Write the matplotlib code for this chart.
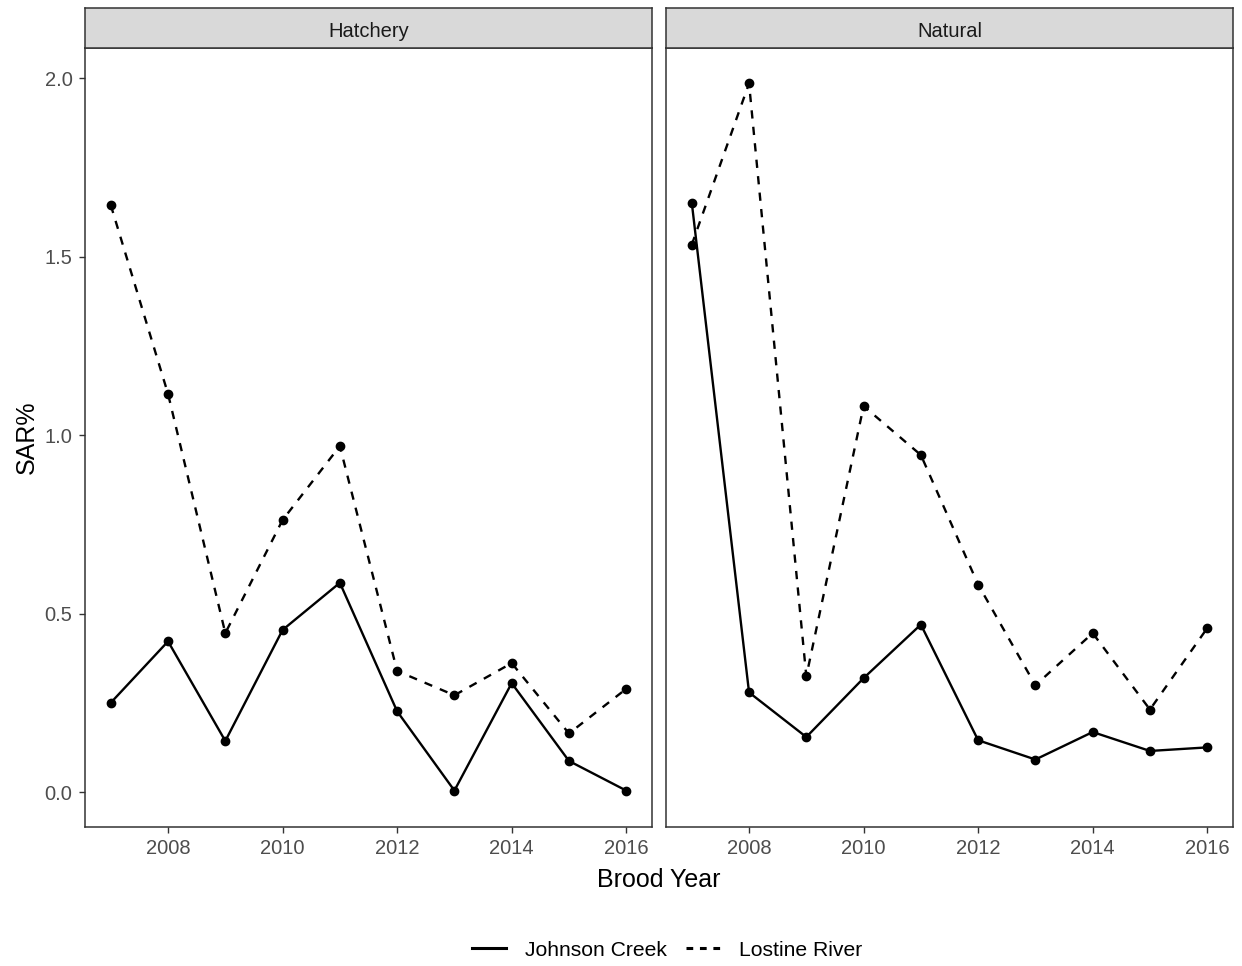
import matplotlib
matplotlib.use("Agg")
import matplotlib.pyplot as plt
from matplotlib.lines import Line2D

plt.rcParams['font.family'] = ['Liberation Sans', 'DejaVu Sans']

years = [2007, 2008, 2009, 2010, 2011, 2012, 2013, 2014, 2015, 2016]

# SAR% by brood year
hatchery_johnson = [0.251, 0.423, 0.144, 0.455, 0.587, 0.227, 0.005, 0.306, 0.088, 0.005]
hatchery_lostine = [1.645, 1.116, 0.446, 0.763, 0.970, 0.340, 0.272, 0.362, 0.165, 0.290]
natural_johnson = [1.652, 0.280, 0.155, 0.320, 0.470, 0.146, 0.092, 0.169, 0.116, 0.126]
natural_lostine = [1.534, 1.986, 0.325, 1.082, 0.945, 0.582, 0.300, 0.446, 0.232, 0.460]

panels = ['Hatchery', 'Natural']
series = {
    'Hatchery': (hatchery_johnson, hatchery_lostine),
    'Natural': (natural_johnson, natural_lostine),
}

grey20 = '#333333'
grey30 = '#4D4D4D'
dash = (0, (3.5, 3.5))

fig = plt.figure(figsize=(12.42, 9.66), dpi=100)
W, H = 1242, 966

lefts = [85, 666]
pw = 567
top, bottom = 48, 827

for i, name in enumerate(panels):
    ax = fig.add_axes([lefts[i] / W, 1 - bottom / H, pw / W, (bottom - top) / H])
    jc, lr = series[name]
    ax.plot(years, jc, color='black', lw=1.7, solid_capstyle='butt')
    ax.plot(years, lr, color='black', lw=1.7, linestyle=dash)
    ax.scatter(years, jc, s=36, color='black', zorder=3)
    ax.scatter(years, lr, s=36, color='black', zorder=3)

    ax.set_xlim(2006.55, 2016.45)
    ax.set_ylim(-0.097, 2.085)
    ax.set_xticks([2008, 2010, 2012, 2014, 2016])
    ax.set_yticks([0.0, 0.5, 1.0, 1.5, 2.0])
    ax.set_yticklabels(['0.0', '0.5', '1.0', '1.5', '2.0'])
    ax.tick_params(colors=grey20, labelcolor=grey30, labelsize=14.5,
                   length=4, width=1, pad=5)
    for sp in ax.spines.values():
        sp.set_color(grey20)
        sp.set_linewidth(1.1)
    if i == 1:
        ax.tick_params(axis='y', left=False, labelleft=False)

    # facet strip
    sax = fig.add_axes([lefts[i] / W, 1 - top / H, pw / W, 40 / H])
    sax.set_xticks([])
    sax.set_yticks([])
    sax.set_facecolor('#D9D9D9')
    for sp in sax.spines.values():
        sp.set_color(grey20)
        sp.set_linewidth(1.1)
    sax.text(0.5, 0.42, name, ha='center', va='center', fontsize=14.5,
             color='#1A1A1A', transform=sax.transAxes)

fig.text(659 / W, 1 - 880 / H, 'Brood Year', ha='center', va='center',
         fontsize=18, color='black')
fig.text(27 / W, 1 - 437 / H, 'SAR%', ha='center', va='center',
         fontsize=18, color='black', rotation=90)

handles = [
    Line2D([], [], color='black', lw=2.2),
    Line2D([], [], color='black', lw=2.2, linestyle=(0, (2.2, 2.2))),
]
fig.legend(handles, ['Johnson Creek', 'Lostine River'], loc='center',
           bbox_to_anchor=(667 / W, 1 - 950 / H), ncol=2, frameon=False,
           fontsize=15.2, handlelength=1.6, handletextpad=0.9,
           columnspacing=0.9)

fig.savefig('out.png', dpi=100)
